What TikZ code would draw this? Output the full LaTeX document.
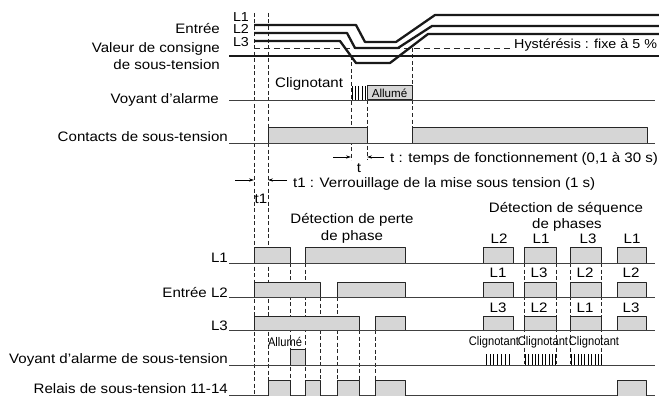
\documentclass[tikz,border=0pt]{standalone}
\usepackage{fontspec}
\setmainfont{Liberation Sans}[FakeStretch=1.1]
\newfontfamily\narrowf{Liberation Sans}[FakeStretch=0.89]
\newfontfamily\plainf{Liberation Sans}
\usetikzlibrary{arrows.meta}
\begin{document}
\begin{tikzpicture}[x=1pt,y=-1pt,line join=round,
  lbl/.style={font=\fontsize{13.7}{16}\selectfont,inner sep=0pt},
  llbl/.style={font=\fontsize{13}{14}\selectfont,inner sep=0pt},
  small/.style={font=\narrowf\fontsize{12.5}{14}\selectfont,inner sep=0pt},
  tiny/.style={font=\plainf\fontsize{11.6}{13}\selectfont,inner sep=0pt},
  sig/.style={line width=2.3pt,black!90},
  base/.style={line width=0.9pt,black!75},
  pulse/.style={draw=black!85,fill=black!16,line width=1pt},
  vdash/.style={line width=0.7pt,black!85,dash pattern=on 4pt off 2.5pt},
  hdash/.style={line width=0.8pt,black!85,dash pattern=on 6pt off 4pt},
  hatch/.style={line width=0.6pt,black},
  arr/.style={line width=0.7pt,-{Stealth[length=5pt,width=3.2pt]}}
]
\useasboundingbox (0,0) rectangle (659,396);

% ---------- upper section labels ----------
\node[lbl,anchor=base east] (entree) at (220,34) {Entrée};
\node[lbl,anchor=base east] (valeur) at (220,53) {Valeur de consigne};
\node[lbl,anchor=base east] (desous) at (220,70) {de sous-tension};
\node[lbl,anchor=base east] (voyant) at (219,103) {Voyant d'alarme};
\node[lbl,anchor=base east] (contacts) at (228,141) {Contacts de sous-tension};
\node[llbl,anchor=base] (tl1) at (241,21.5) {L1};
\node[llbl,anchor=base] (tl2) at (241,34) {L2};
\node[llbl,anchor=base] (tl3) at (241,47) {L3};

% ---------- vertical dashed guides ----------
\draw[vdash] (254,13) -- (254,396);
\draw[vdash] (268,13) -- (268,396);
\draw[vdash] (351,56) -- (351,160);
\draw[vdash] (367,100) -- (367,160);
\draw[vdash] (412,48) -- (412,127);

% ---------- voltage waveforms ----------
\draw[hdash] (254,48) -- (510,48);
\node[llbl,anchor=base west] (hyst) at (514,49) {Hystérésis : fixe à 5 \%};
\draw[sig] (254,25) -- (356,25) -- (365,42) -- (396,42) -- (435,15) -- (659,15);
\draw[sig] (254,33) -- (347,33) -- (355,48) -- (398,48) -- (432,26) -- (659,26);
\draw[sig] (254,41) -- (340,41) -- (356,63) -- (390,63) -- (428,34) -- (659,34);
\draw[sig] (229,56) -- (659,56);

% ---------- alarm indicator ----------
\draw[base] (229,100) -- (655,100);
\node[lbl,anchor=base west] (clig) at (275,88) {Clignotant};
\foreach \x in {352,355.2,358.5,361.8,365} \draw[hatch] (\x,86) -- (\x,100);
\draw[pulse] (367,86) rectangle (412,100);
\node[tiny,anchor=base] (allume) at (389.5,97) {Allumé};

% ---------- contacts ----------
\draw[base] (229,143) -- (655,143);
\draw[pulse] (268,143) |- (367,127) -- (367,143);
\draw[pulse] (412,143) |- (647,127) -- (647,143);

% ---------- t arrows ----------
\coordinate (ta) at (333,157);
\coordinate (tb) at (351,157);
\coordinate (tc) at (384,157);
\coordinate (td) at (367,157);
\draw[arr] (ta) -- (tb);
\draw[arr] (tc) -- (td);
\node[lbl,anchor=base] (tlab) at (359,172) {t};
\node[lbl,anchor=base west] (ttxt) at (390,162) {t : temps de fonctionnement (0,1 à 30 s)};

\coordinate (t1a) at (235,180);
\coordinate (t1b) at (254,180);
\coordinate (t1c) at (287,180);
\coordinate (t1d) at (268,180);
\draw[arr] (t1a) -- (t1b);
\draw[arr] (t1c) -- (t1d);
\node[lbl,anchor=base] (t1lab) at (261,203) {t1};
\node[lbl,anchor=base west] (t1txt) at (293,187) {t1 : Verrouillage de la mise sous tension (1 s)};

% ---------- lower section titles ----------
\node[lbl,anchor=base] (dp1) at (352,223) {Détection de perte};
\node[lbl,anchor=base] (dp2) at (352,240) {de phase};
\node[lbl,anchor=base] (ds1) at (566,212) {Détection de séquence};
\node[lbl,anchor=base] (ds2) at (567,228) {de phases};

% ---------- lower labels ----------
\node[lbl,anchor=base east] (bl1) at (228,262) {L1};
\node[lbl,anchor=base east] (bl2) at (228,297) {Entrée L2};
\node[lbl,anchor=base east] (bl3) at (228,330) {L3};
\node[lbl,anchor=base east] (bva) at (228,363) {Voyant d'alarme de sous-tension};
\node[lbl,anchor=base east] (brel) at (228,393) {Relais de sous-tension 11-14};

% lower dashed guides
\draw[vdash] (290,263) -- (290,396);
\draw[vdash] (305,263) -- (305,396);
\draw[vdash] (320,297) -- (320,396);
\draw[vdash] (337,297) -- (337,396);
\draw[vdash] (359,330) -- (359,396);
\draw[vdash] (375,330) -- (375,396);
\foreach \x in {524,556,570,601} \draw[vdash] (\x,263) -- (\x,364);

% baselines
\foreach \y in {263,297,330,365,395.5} \draw[base] (229,\y) -- (655,\y);

% L1 row
\draw[pulse] (254,263) |- (290,247) -- (290,263);
\draw[pulse] (305,263) |- (405,247) -- (405,263);
% L2 row
\draw[pulse] (254,297) |- (320,282) -- (320,297);
\draw[pulse] (337,297) |- (405,282) -- (405,297);
% L3 row
\draw[pulse] (254,330) |- (359,316) -- (359,330);
\draw[pulse] (375,330) |- (405,316) -- (405,330);
% alarm
\draw[pulse] (290,365) |- (305,349) -- (305,365);
\node[small,anchor=base] (ball) at (285,346) {Allumé};
% relay
\draw[pulse] (268,395.5) |- (290,380) -- (290,395.5);
\draw[pulse] (305,395.5) |- (320,380) -- (320,395.5);
\draw[pulse] (337,395.5) |- (359,380) -- (359,395.5);
\draw[pulse] (375,395.5) |- (405,380) -- (405,395.5);
\draw[pulse] (617,395.5) |- (646,380) -- (646,395.5);

% sequence boxes
\foreach \a/\b in {483/513,524/556,570/601,617/646}{
  \draw[pulse] (\a,263) |- (\b,247) -- (\b,263);
  \draw[pulse] (\a,297) |- (\b,282) -- (\b,297);
  \draw[pulse] (\a,330) |- (\b,316) -- (\b,330);
}
\node[lbl,anchor=base] (s11) at (499,243) {L2};
\node[lbl,anchor=base] (s12) at (541,243) {L1};
\node[lbl,anchor=base] (s13) at (588,243) {L3};
\node[lbl,anchor=base] (s14) at (632,243) {L1};
\node[lbl,anchor=base] (s21) at (498,277) {L1};
\node[lbl,anchor=base] (s22) at (539,277) {L3};
\node[lbl,anchor=base] (s23) at (585,277) {L2};
\node[lbl,anchor=base] (s24) at (631,277) {L2};
\node[lbl,anchor=base] (s31) at (498,312) {L3};
\node[lbl,anchor=base] (s32) at (539,312) {L2};
\node[lbl,anchor=base] (s33) at (585,312) {L1};
\node[lbl,anchor=base] (s34) at (631,312) {L3};

% blinking
\node[small,anchor=base] (c1) at (494,345) {Clignotant};
\node[small,anchor=base] (c2) at (543,345) {Clignotant};
\node[small,anchor=base] (c3) at (594,345) {Clignotant};
\foreach \i in {0,...,6} \draw[hatch] ({486+\i*3.8},354) -- ({486+\i*3.8},365);
\foreach \i in {0,...,9} \draw[hatch] ({525+\i*3.4},354) -- ({525+\i*3.4},365);
\foreach \i in {0,...,9} \draw[hatch] ({571+\i*3.4},354) -- ({571+\i*3.4},365);
\end{tikzpicture}
\end{document}
